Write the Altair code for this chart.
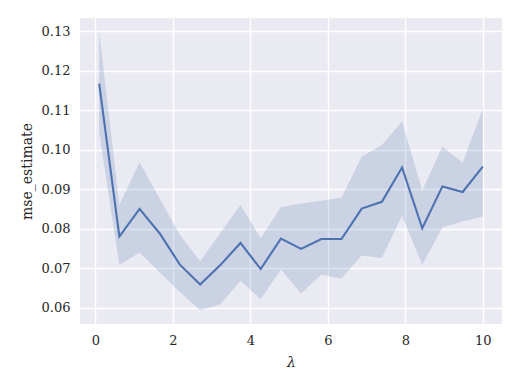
import altair as alt
import pandas as pd

lam = [0.1, 0.621, 1.142, 1.663, 2.184, 2.705, 3.226, 3.747, 4.268, 4.789,
       5.311, 5.832, 6.353, 6.874, 7.395, 7.916, 8.437, 8.958, 9.479, 10.0]
mse = [0.1167, 0.0780, 0.0850, 0.0788, 0.0709, 0.0659, 0.0708, 0.0764, 0.0698, 0.0775,
       0.0749, 0.0774, 0.0774, 0.0851, 0.0868, 0.0955, 0.0801, 0.0907, 0.0893, 0.0957]
upper = [0.1298, 0.0860, 0.0968, 0.0876, 0.0784, 0.0718, 0.0789, 0.0860, 0.0776, 0.0855,
         0.0864, 0.0871, 0.0879, 0.0982, 0.1012, 0.1071, 0.0897, 0.1008, 0.0967, 0.1104]
lower = [0.1044, 0.0708, 0.0740, 0.0689, 0.0640, 0.0594, 0.0609, 0.0668, 0.0622, 0.0697,
         0.0636, 0.0684, 0.0674, 0.0732, 0.0726, 0.0833, 0.0709, 0.0803, 0.0818, 0.0830]

df = pd.DataFrame({"lam": lam, "mse": mse, "upper": upper, "lower": lower})

FONT = "DejaVu Serif"
xs = alt.Scale(domain=[-0.395, 10.495], nice=False, zero=False)
ys = alt.Scale(domain=[0.0559, 0.1333], nice=False, zero=False)

base = alt.Chart(df)
band = base.mark_area(color="#4C72B0", opacity=0.2).encode(
    x=alt.X("lam:Q", scale=xs, title="λ",
            axis=alt.Axis(values=[0, 2, 4, 6, 8, 10], format="d")),
    y=alt.Y("lower:Q", scale=ys, title="mse_estimate",
            axis=alt.Axis(values=[0.06, 0.07, 0.08, 0.09, 0.10, 0.11, 0.12, 0.13], format=".2f")),
    y2="upper:Q",
)
line = base.mark_line(color="#4C72B0", strokeWidth=2.1).encode(
    x="lam:Q", y="mse:Q"
)

chart = (band + line).properties(
    width=422, height=306,
    autosize=alt.AutoSizeParams(type="none"),
    padding={"left": 72, "top": 10, "right": 10, "bottom": 50},
).configure_view(
    fill="#EAEAF2", stroke=None
).configure_axis(
    grid=True, gridColor="white", gridWidth=1.4,
    domain=False, ticks=False, tickSize=0,
    labelFont=FONT, labelFontSize=13, labelColor="#262626", labelPadding=10,
    titleFont=FONT, titleFontSize=14, titleColor="#262626", titleFontWeight="normal",
).configure_axisX(
    titlePadding=8, titleFontStyle="italic"
).configure_axisY(
    titlePadding=7
)

chart.save("out.html", embed_options={"renderer": "svg", "actions": False})
